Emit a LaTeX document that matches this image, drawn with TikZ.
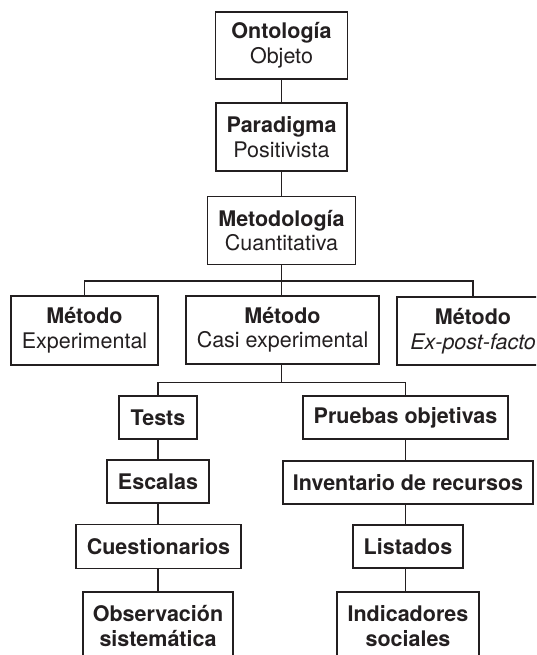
\documentclass[tikz,border=0pt]{standalone}
\usepackage{fontspec}
\setmainfont{TeX Gyre Heros}
\definecolor{ink}{RGB}{35,31,32}
\begin{document}
\begin{tikzpicture}[x=1pt,y=-1pt,
  box/.style={draw=ink, line width=1.4pt, rectangle, inner sep=0pt, align=center,
    text=ink, font=\fontsize{21.5}{24.5}\selectfont},
  conn/.style={draw=ink, line width=1.4pt}]
\useasboundingbox (0,0) rectangle (536,655);
\clip (0,0) rectangle (536,655);
% top chain
\node[box, minimum width=132pt, minimum height=67pt] (ont) at (281.5,45.5) {\textbf{Ontología}\\Objeto};
\node[box, minimum width=131pt, minimum height=68pt] (par) at (281.5,137) {\textbf{Paradigma}\\Positivista};
\node[box, minimum width=148pt, minimum height=68pt] (met) at (281.5,230.5) {\textbf{Metodología}\\Cuantitativa};
% methods
\node[box, minimum width=147pt, minimum height=69pt] (exp) at (84.5,330.5) {\textbf{Método}\\Experimental};
\node[box, minimum width=193pt, minimum height=68pt] (casi) at (282.5,330) {\textbf{Método}\\Casi experimental};
\node[box, minimum width=152pt, minimum height=68pt] (ex) at (473,331) {\textbf{Método}\\\textit{Ex-post-facto}};
% left chain
\node[box, minimum width=78pt, minimum height=43pt] (tests) at (158,417.5) {\textbf{Tests}};
\node[box, minimum width=102pt, minimum height=43pt] (esc) at (158,481.5) {\textbf{Escalas}};
\node[box, minimum width=165pt, minimum height=44pt] (cue) at (158.5,546.5) {\textbf{Cuestionarios}};
\node[box, minimum width=150pt, minimum height=68pt] (obs) at (158,626) {\textbf{Observación}\\\textbf{sistemática}};
% right chain
\node[box, minimum width=205pt, minimum height=43pt] (pru) at (405.5,417.5) {\textbf{Pruebas objetivas}};
\node[box, minimum width=250pt, minimum height=43pt] (inv) at (408,482.5) {\textbf{Inventario de recursos}};
\node[box, minimum width=110pt, minimum height=43pt] (lis) at (408,546.5) {\textbf{Listados}};
\node[box, minimum width=142pt, minimum height=68pt] (ind) at (408,626) {\textbf{Indicadores}\\\textbf{sociales}};
% junctions
\coordinate (j1) at (281.5,281);
\coordinate (j2) at (281.5,382.5);
% connectors
\draw[conn] (ont.south) -- (par.north);
\draw[conn] (par.south) -- (met.north);
\draw[conn] (met.south) -- (j1);
\draw[conn] (exp.north) |- (j1) -| (ex.north);
\draw[conn] (j1) -- (j1 |- casi.north);
\draw[conn] (j1 |- casi.south) -- (j2);
\draw[conn] (tests.north) |- (j2) -| (pru.north);
\draw[conn] (tests.south) -- (tests.south |- esc.north);
\draw[conn] (esc.south) -- (esc.south |- cue.north);
\draw[conn] (esc.south |- cue.south) -- (esc.south |- obs.north);
\draw[conn] (pru.south) -- (pru.south |- inv.north);
\draw[conn] (pru.south |- inv.south) -- (pru.south |- lis.north);
\draw[conn] (pru.south |- lis.south) -- (pru.south |- ind.north);
\end{tikzpicture}
\end{document}
